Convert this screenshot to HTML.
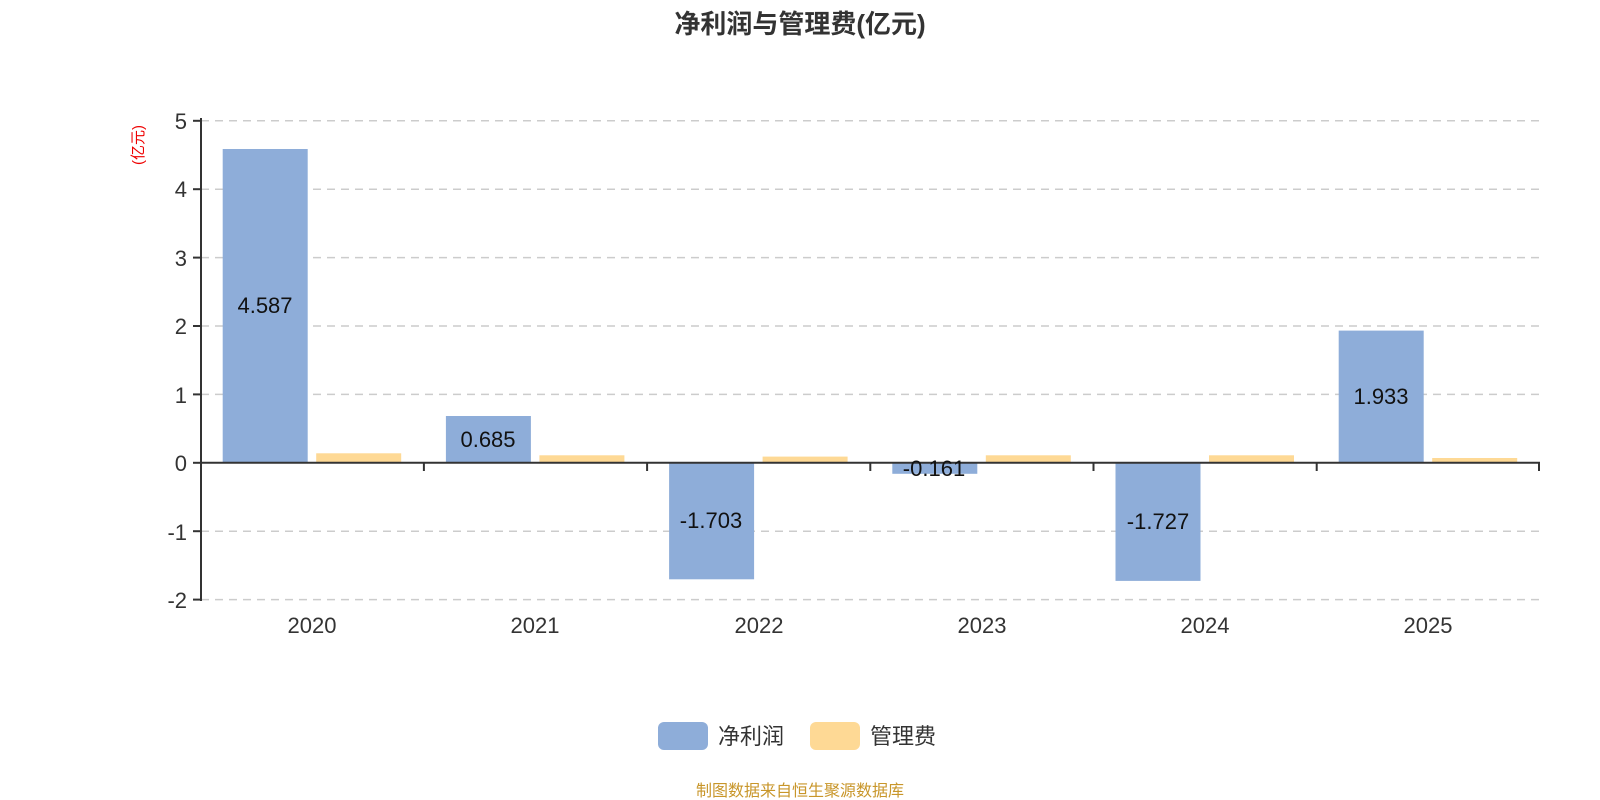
<!DOCTYPE html>
<html><head><meta charset="utf-8"><style>
html,body{margin:0;padding:0;background:#fff;width:1600px;height:800px;overflow:hidden}
svg text{font-family:"Liberation Sans","Noto Sans CJK SC",sans-serif}
</style></head><body>
<svg width="1600" height="800" xmlns="http://www.w3.org/2000/svg">
<text x="800" y="33" text-anchor="middle" font-size="26" font-weight="bold" fill="#333">净利润与管理费(亿元)</text>
<text transform="translate(143,145) rotate(-90)" text-anchor="middle" font-size="15" fill="#e00">(亿元)</text>
<g stroke="#ccc" stroke-width="1.5" stroke-dasharray="8,6">
<line x1="201" x2="1540" y1="120.8" y2="120.8"/>
<line x1="201" x2="1540" y1="189.2" y2="189.2"/>
<line x1="201" x2="1540" y1="257.6" y2="257.6"/>
<line x1="201" x2="1540" y1="326" y2="326"/>
<line x1="201" x2="1540" y1="394.4" y2="394.4"/>
<line x1="201" x2="1540" y1="531.2" y2="531.2"/>
<line x1="201" x2="1540" y1="599.6" y2="599.6"/>
</g>
<g font-size="22" fill="#333" text-anchor="end">
<text x="187" y="129">5</text><text x="187" y="197">4</text><text x="187" y="266">3</text>
<text x="187" y="334">2</text><text x="187" y="403">1</text><text x="187" y="471">0</text>
<text x="187" y="540">-1</text><text x="187" y="608">-2</text>
</g>
<g fill="#8eadd9">
<rect x="222.7" y="149" width="85" height="313.8"/>
<rect x="445.9" y="416" width="85" height="46.8"/>
<rect x="669.1" y="462.8" width="85" height="116.5"/>
<rect x="892.3" y="462.8" width="85" height="11"/>
<rect x="1115.5" y="462.8" width="85" height="118.1"/>
<rect x="1338.7" y="330.6" width="85" height="132.2"/>
</g>
<g fill="#fed995">
<rect x="316.2" y="453.3" width="85" height="9.5"/>
<rect x="539.4" y="455.3" width="85" height="7.5"/>
<rect x="762.6" y="456.6" width="85" height="6.2"/>
<rect x="985.8" y="455.3" width="85" height="7.5"/>
<rect x="1209" y="455.3" width="85" height="7.5"/>
<rect x="1432.2" y="458" width="85" height="4.8"/>
</g>
<g stroke="#333" stroke-width="2">
<line x1="201" y1="118" x2="201" y2="601"/>
<line x1="193" y1="120.8" x2="201" y2="120.8"/><line x1="193" y1="189.2" x2="201" y2="189.2"/>
<line x1="193" y1="257.6" x2="201" y2="257.6"/><line x1="193" y1="326" x2="201" y2="326"/>
<line x1="193" y1="394.4" x2="201" y2="394.4"/><line x1="193" y1="462.8" x2="201" y2="462.8"/>
<line x1="193" y1="531.2" x2="201" y2="531.2"/><line x1="193" y1="599.6" x2="201" y2="599.6"/>
<line x1="201" y1="462.8" x2="1540" y2="462.8"/>
<line x1="423.9" y1="462.8" x2="423.9" y2="471"/><line x1="647.1" y1="462.8" x2="647.1" y2="471"/>
<line x1="870.3" y1="462.8" x2="870.3" y2="471"/><line x1="1093.5" y1="462.8" x2="1093.5" y2="471"/>
<line x1="1316.7" y1="462.8" x2="1316.7" y2="471"/><line x1="1539" y1="462.8" x2="1539" y2="471"/>
</g>
<g font-size="22" fill="#111" text-anchor="middle">
<text x="265" y="313">4.587</text>
<text x="488" y="447">0.685</text>
<text x="711" y="528">-1.703</text>
<text x="934" y="476">-0.161</text>
<text x="1158" y="529">-1.727</text>
<text x="1381" y="404">1.933</text>
</g>
<g font-size="22" fill="#333" text-anchor="middle">
<text x="312" y="633">2020</text><text x="535" y="633">2021</text><text x="759" y="633">2022</text>
<text x="982" y="633">2023</text><text x="1205" y="633">2024</text><text x="1428" y="633">2025</text>
</g>
<rect x="658" y="722" width="50" height="28" rx="6" fill="#8eadd9"/>
<text x="718" y="744" font-size="22" fill="#333">净利润</text>
<rect x="810" y="722" width="50" height="28" rx="6" fill="#fed995"/>
<text x="870" y="744" font-size="22" fill="#333">管理费</text>
<text x="800" y="796" text-anchor="middle" font-size="16" fill="#c8962a">制图数据来自恒生聚源数据库</text>
</svg>
</body></html>
